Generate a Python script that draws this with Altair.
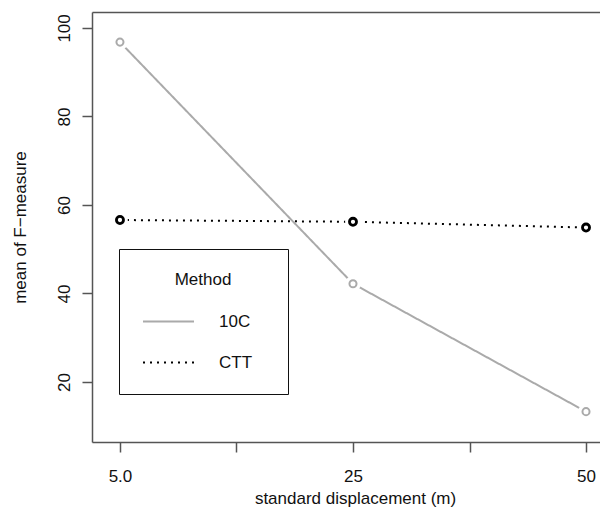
import altair as alt
import pandas as pd

# ---- data ----
displacement = ["5.0", "25", "50"]          # x categories (standard displacement, m)
methods = ["10C", "CTT"]
f_10c = [96.8, 42.2, 13.3]                   # mean of F-measure, method 10C
f_ctt = [56.6, 56.2, 54.9]                   # mean of F-measure, method CTT
y_ticks = [20, 40, 60, 80, 100]

rows = []
for i, d in enumerate(displacement):
    rows.append({"pos": i + 1, "disp": d, "Method": "10C", "F": f_10c[i]})
    rows.append({"pos": i + 1, "disp": d, "Method": "CTT", "F": f_ctt[i]})
df = pd.DataFrame(rows)

n = len(displacement)
x_tick_vals = [1 + 0.5 * k for k in range(2 * n - 1)]
label_expr = " : ".join(
    f"datum.value == {i + 1} ? '{d}'" for i, d in enumerate(displacement)
) + " : ''"

FONT = "Liberation Sans"
FS = 17
AX = "#555555"
TXT = "#111111"

xs = alt.Scale(domain=[0.88, 3.06], nice=False, zero=False)
ys = alt.Scale(domain=[6.44, 103.6], nice=False, zero=False)

x_axis = alt.Axis(
    values=x_tick_vals, labelExpr=label_expr, title="standard displacement (m)",
    tickSize=10, labelPadding=16, labelAngle=0, labelFlush=False,
    titleX=263, titleY=56, titleBaseline="middle", titleAlign="center",
)
y_axis = alt.Axis(
    values=y_ticks, title="mean of F\u2212measure", tickSize=10,
    labelAngle=270, labelAlign="center", labelBaseline="bottom", labelPadding=9,
    titleX=-72, titleY=215, titleAngle=270, titleAlign="center", titleBaseline="middle",
)

color_scale = alt.Scale(domain=methods, range=["#aaaaaa", "#000000"])
dash_scale = alt.Scale(domain=methods, range=[[1, 0], [2, 5]])

leg = dict(orient="none", legendX=27, legendY=237, title="Method",
           labelExpr="datum.label + '\u2800'")

lines = alt.Chart(df).mark_line(strokeWidth=2).encode(
    x=alt.X("pos:Q", scale=xs, axis=x_axis),
    y=alt.Y("F:Q", scale=ys, axis=y_axis),
    color=alt.Color("Method:N", scale=color_scale, legend=alt.Legend(**leg)),
    strokeDash=alt.StrokeDash("Method:N", scale=dash_scale, legend=alt.Legend(**leg)),
)

halo = alt.Chart(df).mark_circle(color="white", opacity=1, size=250).encode(
    x=alt.X("pos:Q", scale=xs,
            axis=alt.Axis(orient="top", labels=False, ticks=False, title=None)),
    y=alt.Y("F:Q", scale=ys, axis=y_axis),
)

points = alt.Chart(df).mark_point(shape="circle", filled=False, size=50, opacity=1).encode(
    x=alt.X("pos:Q", scale=xs, axis=None),
    y=alt.Y("F:Q", scale=ys, axis=y_axis),
    color=alt.condition(alt.datum.Method == "10C", alt.value("#aaaaaa"), alt.value("#000000")),
    strokeWidth=alt.condition(alt.datum.Method == "10C", alt.value(2), alt.value(2.8)),
)

chart = alt.layer(lines, halo, points).resolve_axis(x="independent").properties(
    width=508, height=430,
    autosize=alt.AutoSizeParams(type="none"),
    padding={"left": 84, "top": 4, "right": 0, "bottom": 66},
).configure_view(stroke=None).configure_axis(
    grid=False, domainColor=AX, domainWidth=1.5, tickColor=AX, tickWidth=1.5,
    labelFont=FONT, labelFontSize=FS, labelColor=TXT,
    titleFont=FONT, titleFontSize=FS, titleFontWeight="normal", titleColor=TXT,
).configure_legend(
    strokeColor=TXT, padding=23, titleFont=FONT, titleFontSize=FS,
    titleFontWeight="normal", titleColor=TXT, titleAnchor="middle", titleAlign="center",
    titlePadding=6, rowPadding=6, symbolType="stroke", symbolSize=2601,
    symbolStrokeWidth=2, labelOffset=24, labelFont=FONT, labelFontSize=FS, labelColor=TXT,
)

chart.save("out.html", embed_options={"renderer": "svg", "actions": False})
